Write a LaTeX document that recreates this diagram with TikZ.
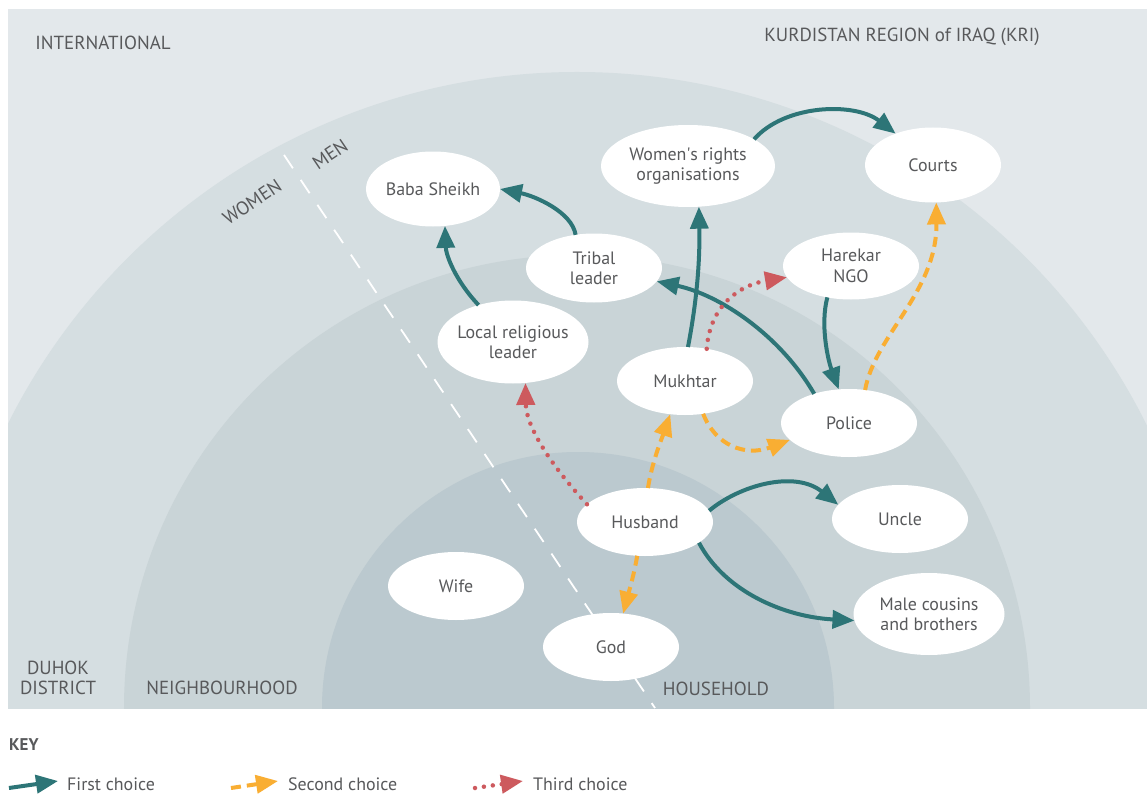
\documentclass[tikz,border=0pt]{standalone}
\usepackage{fontspec}
\setmainfont{PT Sans}
\usetikzlibrary{shapes.geometric,arrows.meta}
\definecolor{bgout}{HTML}{E3E8EB}
\definecolor{bgdist}{HTML}{D5DEE1}
\definecolor{bgnb}{HTML}{C9D4D7}
\definecolor{bghh}{HTML}{BBC9CF}
\definecolor{teal1}{HTML}{2D7577}
\definecolor{orange1}{HTML}{F9AE33}
\definecolor{red1}{HTML}{CD5A5E}
\definecolor{txtgray}{HTML}{58595B}
\tikzset{
  bubble/.style={ellipse, fill=white, draw=none, inner sep=0pt, outer sep=0pt},
  txt/.style={text=txtgray, font=\fontsize{18}{20.5}\selectfont, align=center, inner sep=0pt},
  region/.style={text=txtgray, font=\fontsize{19}{20}\selectfont, align=center, inner sep=0pt},
  tipshape/.style={-{Triangle[length=22bp,width=18bp]}},
  firstc/.style={draw=teal1, line width=4bp, tipshape},
  secondc/.style={draw=orange1, line width=4bp, dash pattern=on 10bp off 6bp, tipshape},
  thirdc/.style={draw=red1, line width=4.5bp, line cap=round, dash pattern=on 0bp off 9bp, tipshape},
}
\begin{document}
\begin{tikzpicture}[x=1bp,y=-1bp]
\useasboundingbox (0,0) rectangle (1147,810);
\fill[white] (0,0) rectangle (1147,810);
% background rings
\begin{scope}
  \clip (8,9) rectangle (1147,708);
  \fill[bgout] (8,9) rectangle (1147,708);
  \fill[bgdist] (577,708) circle[radius=636bp];
  \fill[bgnb] (577,708) circle[radius=453bp];
  \fill[bghh] (578,708) circle[radius=256bp];
\end{scope}
% women / men divider
\coordinate (div1) at (284,155);
\coordinate (div2) at (655,708);
\draw[white, line width=1.8bp, dash pattern=on 16bp off 14bp] (div1) -- (div2);
\node[region, rotate=34] (womenl) at (252,202) {WOMEN};
\node[region, rotate=34] (menl) at (330,154) {MEN};
% region labels
\node[region] (intl) at (103,43) {INTERNATIONAL};
\node[region] (kri) at (902,37) {KURDISTAN REGION of IRAQ (KRI)};
\node[region] (duhok) at (58,678) {DUHOK\\DISTRICT};
\node[region] (nbhd) at (222,688) {NEIGHBOURHOOD};
\node[region] (hhold) at (716,689) {HOUSEHOLD};
% bubbles
\node[bubble, minimum width=134bp, minimum height=75bp] (baba) at (433,189) {};
\node[bubble, minimum width=136bp, minimum height=69bp] (tribal) at (594,268) {};
\node[bubble, minimum width=151bp, minimum height=83bp] (local) at (513,342) {};
\node[bubble, minimum width=174bp, minimum height=82bp] (women) at (688,166) {};
\node[bubble, minimum width=136bp, minimum height=75bp] (courts) at (933,165) {};
\node[bubble, minimum width=136bp, minimum height=67bp] (harekar) at (851,266) {};
\node[bubble, minimum width=136bp, minimum height=68bp] (mukhtar) at (685,381) {};
\node[bubble, minimum width=136bp, minimum height=68bp] (police) at (849,423) {};
\node[bubble, minimum width=136bp, minimum height=68bp] (husband) at (645,522) {};
\node[bubble, minimum width=136bp, minimum height=68bp] (uncle) at (900,519) {};
\node[bubble, minimum width=151bp, minimum height=82bp] (male) at (929,614) {};
\node[bubble, minimum width=136bp, minimum height=68bp] (god) at (611,647) {};
\node[bubble, minimum width=136bp, minimum height=68bp] (wife) at (456,586) {};
% bubble texts
\node[txt] (babat) at (baba) {Baba Sheikh};
\node[txt] (tribalt) at (tribal) {Tribal\\leader};
\node[txt] (localt) at (local) {Local religious\\leader};
\node[txt] (woment) at (women) {Women\textquotesingle s rights\\organisations};
\node[txt] (courtst) at (courts) {Courts};
\node[txt] (harekart) at (harekar) {Harekar\\NGO};
\node[txt] (mukhtart) at (mukhtar) {Mukhtar};
\node[txt] (policet) at (police) {Police};
\node[txt] (husbandt) at (husband) {Husband};
\node[txt] (unclet) at (uncle) {Uncle};
\node[txt] (malet) at (male) {Male cousins\\and brothers};
\node[txt] (godt) at (god) {God};
\node[txt] (wifet) at (wife) {Wife};
% connectors
\draw[firstc] (tribal.119) .. controls (572,212) and (535,196) .. (baba.east);
\draw[firstc] (local.133) .. controls (455,280) and (446,255) .. (baba.288);
\draw[firstc] (women.22) .. controls (785,104) and (855,102) .. (courts.140);
\draw[firstc] (mukhtar.85) .. controls (697,300) and (700,260) .. (women.285);
\draw[firstc] (police.140) .. controls (780,335) and (720,295) .. (tribal.348);
\draw[thirdc] (mukhtar.56) .. controls (710,305) and (740,285) .. (harekar.190);
\draw[firstc] (harekar.233) .. controls (820,325) and (828,360) .. (police.107);
\draw[secondc] (police.64) .. controls (875,335) and (937,292) .. (courts.275);
\draw[secondc] (mukhtar.299) .. controls (715,445) and (745,457) .. (police.196);
\draw[secondc] (husband.85) .. controls (652,462) and (662,438) .. (mukhtar.246);
\draw[thirdc] (husband.163) .. controls (548,462) and (526,425) .. (local.287);
\draw[secondc] (husband.257) .. controls (634,575) and (628,595) .. (god.70);
\draw[firstc] (husband.10) .. controls (740,485) and (795,470) .. (uncle.167);
\draw[firstc] (husband.339) .. controls (725,592) and (785,617) .. (male.185);
% key
\node[text=txtgray, font=\fontsize{17}{19}\selectfont\bfseries, inner sep=0pt, anchor=west] (key) at (9,745) {KEY};
\coordinate (k1s) at (9,788);
\coordinate (k1e) at (58,781);
\coordinate (k2s) at (231,788);
\coordinate (k2e) at (278,781);
\coordinate (k3s) at (475,788);
\coordinate (k3e) at (523,781);
\draw[firstc] (k1s) -- (k1e);
\draw[secondc] (k2s) -- (k2e);
\draw[thirdc] (k3s) -- (k3e);
\node[txt, anchor=west] (k1t) at (67,784) {First choice};
\node[txt, anchor=west] (k2t) at (288,784) {Second choice};
\node[txt, anchor=west] (k3t) at (533,784) {Third choice};
\end{tikzpicture}
\end{document}
